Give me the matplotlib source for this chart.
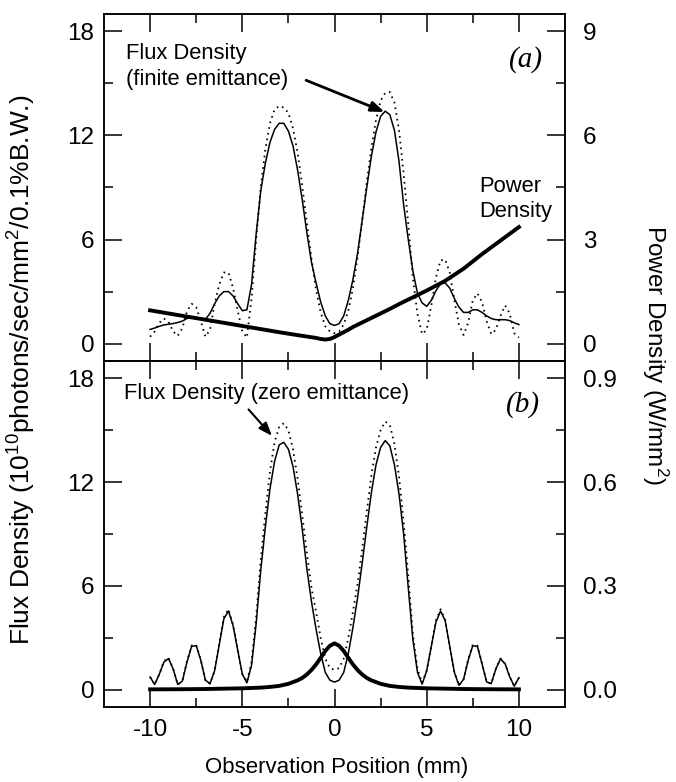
import matplotlib
matplotlib.use('Agg')
import matplotlib.pyplot as plt
from matplotlib.ticker import FixedLocator, FormatStrFormatter

plt.rcParams['font.family'] = ['Liberation Sans', 'DejaVu Sans']
plt.rcParams['mathtext.default'] = 'regular'
plt.rcParams['axes.unicode_minus'] = False

# observation position (mm), common sampling of the flux curves
pos_mm = [-10.0, -9.75, -9.5, -9.25, -9.0, -8.75, -8.5, -8.25, -8.0, -7.75,
          -7.5, -7.25, -7.0, -6.75, -6.5, -6.25, -6.0, -5.75, -5.5, -5.25,
          -5.0, -4.75, -4.5, -4.25, -4.0, -3.75, -3.5, -3.25, -3.0, -2.75,
          -2.5, -2.25, -2.0, -1.75, -1.5, -1.25, -1.0, -0.75, -0.5, -0.25,
          0.0, 0.25, 0.5, 0.75, 1.0, 1.25, 1.5, 1.75, 2.0, 2.25,
          2.5, 2.75, 3.0, 3.25, 3.5, 3.75, 4.0, 4.25, 4.5, 4.75,
          5.0, 5.25, 5.5, 5.75, 6.0, 6.25, 6.5, 6.75, 7.0, 7.25,
          7.5, 7.75, 8.0, 8.25, 8.5, 8.75, 9.0, 9.25, 9.5, 9.75, 10.0]

# (a) flux density, finite emittance (solid) and zero emittance (dotted)
flux_a_finite = [0.82, 0.9, 1.0, 1.08, 1.12, 1.16, 1.22, 1.3, 1.45, 1.52,
                 1.5, 1.4, 1.4, 1.75, 2.3, 2.75, 3.0, 3.0, 2.75, 2.3,
                 1.9, 1.95, 3.4, 6.3, 8.8, 10.4, 11.6, 12.35, 12.7, 12.7,
                 12.25, 11.4, 10.0, 8.3, 6.4, 4.7, 3.5, 2.4, 1.6, 1.15,
                 1.05, 1.15, 1.6, 2.5, 3.7, 5.2, 7.1, 9.0, 10.8, 12.2,
                 13.1, 13.4, 13.2, 12.3, 10.5, 8.0, 6.0, 4.2, 2.9, 2.35,
                 2.15, 2.5, 3.05, 3.45, 3.5, 3.2, 2.6, 2.1, 1.8, 1.8,
                 1.95, 1.95, 1.8, 1.6, 1.45, 1.38, 1.38, 1.38, 1.33, 1.2, 1.1]
flux_a_zero = [0.4, 0.7, 1.2, 1.45, 1.25, 0.7, 0.45, 0.9, 1.85, 2.3,
               2.1, 1.3, 0.4, 0.8, 2.3, 3.4, 4.1, 4.1, 3.2, 1.9,
               0.7, 0.35, 2.6, 6.0, 9.0, 11.2, 12.7, 13.5, 13.7, 13.6,
               13.3, 12.4, 11.0, 9.1, 7.0, 4.9, 3.1, 1.8, 1.0, 0.7,
               0.6, 0.7, 1.1, 1.9, 3.2, 5.0, 7.1, 9.3, 11.3, 12.9,
               14.0, 14.45, 14.5, 13.9, 12.3, 9.8, 6.9, 3.8, 1.7, 0.55,
               0.8, 2.2, 3.8, 4.8, 4.85, 4.1, 2.5, 1.1, 0.5, 1.2,
               2.5, 2.9, 2.4, 1.3, 0.55, 0.8, 1.6, 2.2, 1.75, 0.6, 0.35]

# (a) power density (W/mm^2)
power_a_pos = [-10, -9, -8, -7, -6, -5, -4, -3, -2, -1.5, -1, -0.75, -0.5,
               -0.25, 0, 0.25, 0.5, 0.75, 1, 1.5, 2, 2.5, 3, 3.5, 4, 5, 6,
               7, 8, 9, 10]
power_a = [0.96, 0.87, 0.78, 0.69, 0.6, 0.51, 0.42, 0.33, 0.245, 0.205,
           0.165, 0.135, 0.118, 0.135, 0.19, 0.26, 0.33, 0.4, 0.48, 0.61,
           0.74, 0.87, 1.0, 1.14, 1.27, 1.53, 1.81, 2.16, 2.58, 2.97, 3.36]

# (b) flux density, zero emittance (solid) and comparison curve (dotted)
flux_b_solid = [0.73, 0.3, 0.9, 1.6, 1.8, 1.2, 0.3, 0.5, 1.6, 2.5,
                2.55, 1.7, 0.55, 0.35, 1.1, 2.6, 4.1, 4.55, 3.7, 2.3,
                0.9, 0.4, 1.4, 3.8, 6.9, 9.4, 11.6, 13.2, 14.15, 14.3,
                13.9, 12.9, 11.3, 9.3, 7.0, 5.1, 3.5, 2.1, 1.0, 0.55,
                0.44, 0.55, 1.0, 2.1, 3.6, 5.3, 7.3, 9.4, 11.4, 13.0,
                14.0, 14.4, 14.1, 13.0, 11.3, 9.0, 5.9, 2.9, 1.0, 0.32,
                1.1, 2.5, 3.9, 4.55, 4.0, 2.5, 1.0, 0.25, 0.6, 1.7,
                2.55, 2.5, 1.5, 0.45, 0.35, 1.2, 1.78, 1.5, 0.75, 0.2, 0.69]
flux_b_dotted = [0.73, 0.3, 0.9, 1.65, 1.85, 1.2, 0.3, 0.5, 1.65, 2.55,
                 2.6, 1.7, 0.55, 0.35, 1.1, 2.65, 4.2, 4.65, 3.75, 2.3,
                 0.9, 0.45, 1.6, 4.2, 7.5, 10.2, 12.6, 14.3, 15.2, 15.4,
                 15.0, 13.9, 12.2, 10.1, 7.9, 5.9, 4.5, 3.0, 1.8, 1.25,
                 1.15, 1.25, 1.8, 3.0, 4.5, 6.1, 8.1, 10.3, 12.4, 14.0,
                 15.0, 15.5, 15.3, 14.2, 12.3, 9.7, 6.6, 3.2, 1.2, 0.4,
                 1.1, 2.55, 4.0, 4.65, 4.05, 2.5, 1.0, 0.25, 0.6, 1.75,
                 2.6, 2.55, 1.5, 0.45, 0.35, 1.2, 1.8, 1.5, 0.75, 0.2, 0.69]

# (b) power density (W/mm^2)
power_b_pos = [-10, -9, -8, -7, -6, -5, -4.5, -4, -3.5, -3, -2.5, -2, -1.75,
               -1.5, -1.25, -1, -0.75, -0.5, -0.25, 0, 0.25, 0.5, 0.75, 1,
               1.25, 1.5, 1.75, 2, 2.5, 3, 3.5, 4, 4.5, 5, 6, 7, 8, 9, 10]
power_b = [0.001, 0.0012, 0.0015, 0.002, 0.003, 0.004, 0.005, 0.006, 0.008,
           0.011, 0.017, 0.027, 0.034, 0.044, 0.057, 0.073, 0.092, 0.112,
           0.127, 0.134, 0.127, 0.112, 0.092, 0.073, 0.057, 0.044, 0.034,
           0.027, 0.017, 0.011, 0.008, 0.006, 0.005, 0.004, 0.003, 0.002,
           0.0015, 0.0012, 0.001]

x_major = [-10, -5, 0, 5, 10]
x_minor = [-7.5, -2.5, 2.5, 7.5]
flux_major = [0, 6, 12, 18]
flux_minor = [3, 9, 15]

W, H = 676, 782
fig = plt.figure(figsize=(W / 100, H / 100), dpi=100)
left = 104 / W
width = (565 - 104) / W
ax_a = fig.add_axes([left, 1 - 361 / H, width, (361 - 14) / H])
ax_b = fig.add_axes([left, 1 - 707 / H, width, (707 - 361) / H])


def style_axes(ax, axr, rlim, rmajor, rminor, rfmt):
    ax.set_xlim(-12.5, 12.5)
    ax.set_ylim(-1, 19)
    axr.set_ylim(*rlim)
    ax.xaxis.set_major_locator(FixedLocator(x_major))
    ax.xaxis.set_minor_locator(FixedLocator(x_minor))
    ax.yaxis.set_major_locator(FixedLocator(flux_major))
    ax.yaxis.set_minor_locator(FixedLocator(flux_minor))
    axr.yaxis.set_major_locator(FixedLocator(rmajor))
    axr.yaxis.set_minor_locator(FixedLocator(rminor))
    axr.yaxis.set_major_formatter(FormatStrFormatter(rfmt))
    ax.tick_params(which='both', direction='in', top=True, width=1.1,
                   labelsize=17.5, colors='black')
    ax.tick_params(axis='y', pad=7)
    ax.tick_params(axis='x', pad=9)
    ax.tick_params(which='major', length=13)
    ax.tick_params(which='minor', length=6.5)
    axr.tick_params(which='both', direction='in', width=1.1, labelsize=17.5,
                    pad=13)
    axr.tick_params(which='major', length=13)
    axr.tick_params(which='minor', length=6.5)
    for a in (ax, axr):
        for sp in a.spines.values():
            sp.set_linewidth(1.1)


ax_ar = ax_a.twinx()
ax_br = ax_b.twinx()
style_axes(ax_a, ax_ar, (-0.5, 9.5), [0, 3, 6, 9], [1.5, 4.5, 7.5], '%g')
style_axes(ax_b, ax_br, (-0.05, 0.95), [0, 0.3, 0.6, 0.9],
           [0.15, 0.45, 0.75], '%.1f')
ax_a.tick_params(labelbottom=False)

dots = (0, (0.9, 2.3))

# panel (a)
ax_a.plot(pos_mm, flux_a_zero, color='black', lw=1.3, ls=dots)
ax_a.plot(pos_mm, flux_a_finite, color='black', lw=1.1)
ax_ar.plot(power_a_pos, power_a, color='black', lw=2.8)

ax_a.text(-11.32, 16.73, 'Flux Density', va='center', fontsize=15.8)
ax_a.text(-11.32, 15.23, '(finite emittance)', va='center', fontsize=15.8)
ax_a.annotate('', xy=(2.72, 13.35), xytext=(-1.54, 15.18),
              arrowprops=dict(arrowstyle='-|>,head_length=0.8,head_width=0.3',
                              lw=2, color='black', shrinkA=0, shrinkB=0))
ax_a.text(11.3, 16.4, '(a)', ha='right', va='center', fontsize=21,
          family='Liberation Serif', style='italic')
ax_a.text(7.83, 9.64, 'Power\nDensity', ha='left', va='top', fontsize=15.8)

# panel (b)
ax_b.plot(pos_mm, flux_b_dotted, color='black', lw=1.3, ls=dots)
ax_b.plot(pos_mm, flux_b_solid, color='black', lw=1.1)
ax_br.plot(power_b_pos, power_b, color='black', lw=2.8)

ax_b.text(-11.41, 17.1, 'Flux Density (zero emittance)', va='center',
          fontsize=15.8)
ax_b.annotate('', xy=(-3.39, 14.67), xytext=(-4.66, 16.2),
              arrowprops=dict(arrowstyle='-|>,head_length=0.8,head_width=0.3',
                              lw=1.5, color='black', shrinkA=0, shrinkB=0))
ax_b.text(11.14, 16.46, '(b)', ha='right', va='center', fontsize=21,
          family='Liberation Serif', style='italic')

# axis titles
fig.text(22 / W, 1 - 370 / H,
         'Flux Density (10$^{10}$photons/sec/mm$^{2}$/0.1%B.W.)',
         rotation=90, ha='center', va='center', fontsize=19)
fig.text(655 / W, 1 - 355 / H, 'Power Density (W/mm$^{2}$)',
         rotation=270, ha='center', va='center', fontsize=17.5)
fig.text(337 / W, 1 - 768 / H, 'Observation Position (mm)',
         ha='center', va='center', fontsize=16)

fig.savefig('out.png', dpi=100)
